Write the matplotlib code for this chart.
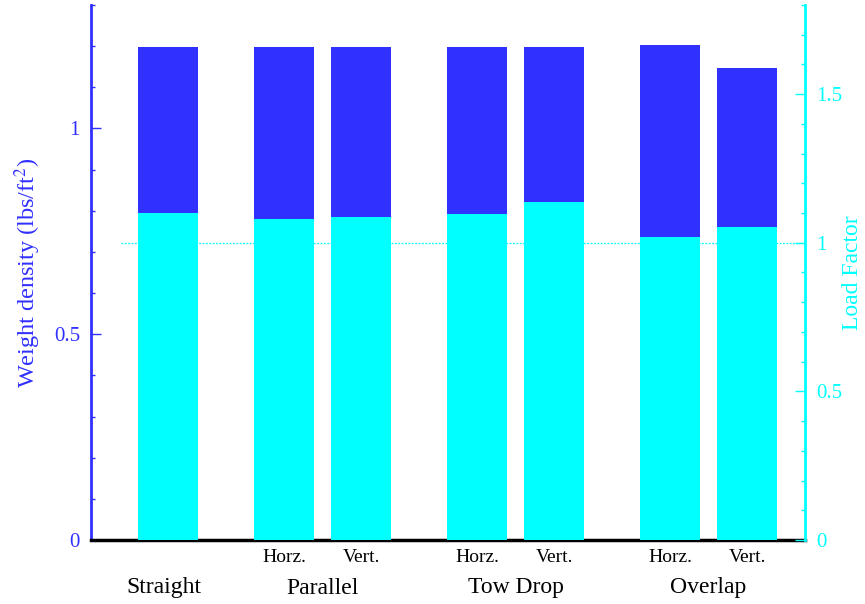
import numpy as np
import matplotlib.pyplot as plt
from matplotlib.ticker import MultipleLocator
import matplotlib.transforms as mtransforms

plt.rcParams['font.family'] = 'Liberation Serif'
plt.rcParams['mathtext.fontset'] = 'stix'

# bar positions and data
positions = [1, 2.5, 3.5, 5, 6, 7.5, 8.5]
sub_labels = ['', 'Horz.', 'Vert.', 'Horz.', 'Vert.', 'Horz.', 'Vert.']
groups = ['Straight', 'Parallel', 'Tow Drop', 'Overlap']
group_pos = [0.95, 3.0, 5.5, 8.0]
weight_density = [1.198, 1.198, 1.198, 1.198, 1.198, 1.204, 1.147]
load_factor = [1.101, 1.081, 1.088, 1.098, 1.138, 1.020, 1.054]

blue = '#3030ff'
cyan = '#00ffff'

fig = plt.figure(figsize=(8.65, 6.04), dpi=100)
ax = fig.add_axes([0.1052, 0.106, 0.8254, 0.8857])
ax2 = ax.twinx()

ax.bar(positions, weight_density, width=0.77, color=blue, zorder=2)
ax2.plot([0.39, 9.25], [1, 1], color=cyan, lw=0.9, ls=(0, (1.5, 1.2)), zorder=1)
ax2.bar(positions, load_factor, width=0.77, color=cyan, zorder=2)

ax.set_xlim(0, 9.25)
ax.set_ylim(0, 1.3)
ax2.set_ylim(0, 1.8)

ax.yaxis.set_major_locator(MultipleLocator(0.5))
ax.yaxis.set_minor_locator(MultipleLocator(0.1))
ax2.yaxis.set_major_locator(MultipleLocator(0.5))
ax2.yaxis.set_minor_locator(MultipleLocator(0.1))
ax.yaxis.set_major_formatter(lambda v, p: f'{v:g}')
ax2.yaxis.set_major_formatter(lambda v, p: f'{v:g}')

ax.tick_params(axis='y', which='major', direction='in', length=7, width=1,
               colors=blue, labelsize=15, pad=8)
ax.tick_params(axis='y', which='minor', direction='in', length=3, width=1, colors=blue)
ax2.tick_params(axis='y', which='major', direction='in', length=7, width=1,
                colors=cyan, labelsize=15, pad=8)
ax2.tick_params(axis='y', which='minor', direction='in', length=3, width=1, colors=cyan)
ax.set_xticks([])

for a in (ax, ax2):
    a.spines['top'].set_visible(False)
ax.spines['left'].set_color(blue)
ax.spines['left'].set_linewidth(2)
ax2.spines['left'].set_visible(False)
ax2.spines['right'].set_color(cyan)
ax2.spines['right'].set_linewidth(2)
ax.spines['right'].set_visible(False)
ax2.spines['bottom'].set_visible(False)
ax.spines['bottom'].set_color('black')
ax.spines['bottom'].set_linewidth(2.5)
ax.spines['bottom'].set_zorder(5)

ax.set_ylabel('Weight density (lbs/ft$^2$)', color=blue, fontsize=17.5, va='center')
ax.yaxis.set_label_coords(-0.088, 0.5)
ax2.set_ylabel('Load Factor', color=cyan, fontsize=17, va='center')
ax2.yaxis.set_label_coords(1.066, 0.5)

trans = mtransforms.blended_transform_factory(ax.transData, fig.transFigure)
for x, s in zip(positions, sub_labels):
    fig.text(x, 1 - 558 / 604, s, transform=trans, ha='center', va='center', fontsize=14)
for x, s in zip(group_pos, groups):
    fig.text(x, 1 - 588 / 604, s, transform=trans, ha='center', va='center', fontsize=17)

fig.savefig('out.png', dpi=100)
